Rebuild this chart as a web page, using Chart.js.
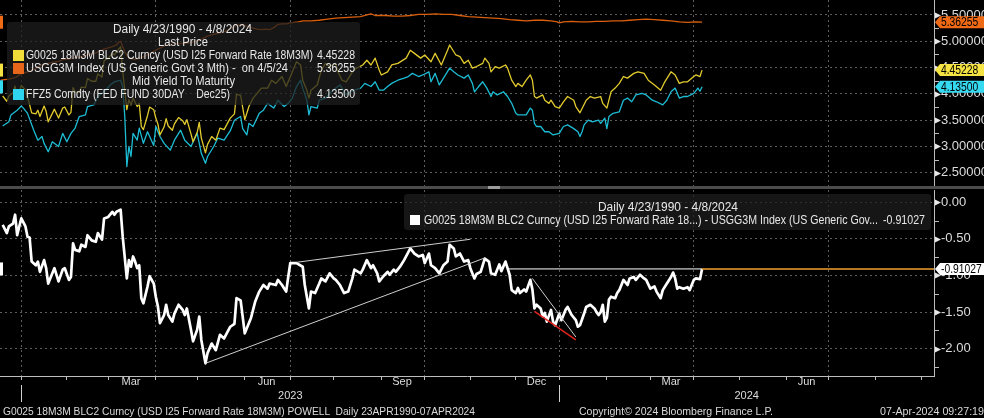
<!DOCTYPE html>
<html>
<head>
<meta charset="utf-8">
<script src="https://cdn.jsdelivr.net/npm/chart.js@4.4.1/dist/chart.umd.min.js"></script>
<style>
  html, body { margin: 0; padding: 0; background: #000; }
  #wrap { position: relative; width: 984px; height: 418px; overflow: hidden; background: #000; color: #e8e8e8;
          font-family: "Liberation Sans", Arial, sans-serif; }
  canvas { position: absolute; left: 0; }
  #topChart { top: 0; }
  #botChart { top: 189px; }
  .sep { position: absolute; left: 0; top: 186px; width: 984px; height: 3px; background: #4b4b4b; }
  .grip { position: absolute; left: 488px; top: 186px; width: 12px; height: 3px; background: #9c9c9c; }
  .box { position: absolute; background: rgba(30, 30, 30, 0.74); border-radius: 3px; }
  .sq { position: absolute; }
  .tx { position: absolute; font-size: 12.5px; line-height: 13px; height: 13px; white-space: pre; transform-origin: 0 50%; }
  .ft { font-size: 11.5px; color: #dadada; }
</style>
</head>
<body>
<div id="wrap">
  <canvas id="topChart" width="984" height="186"></canvas>
  <div class="sep"></div><div class="grip"></div>
  <canvas id="botChart" width="984" height="229"></canvas>

  <div class="box" style="left:7px; top:22px; width:353px; height:83px;"></div>
  <div class="sq" style="left:13px; top:50px; width:11px; height:11px; background:#f2dc3a;"></div>
  <div class="sq" style="left:13px; top:63px; width:11px; height:11px; background:#e8661a;"></div>
  <div class="sq" style="left:13px; top:89px; width:11px; height:11px; background:#2fd5ee;"></div>
  <span class="tx" data-w="139" style="left:113px; top:23px;">Daily 4/23/1990 - 4/8/2024</span>
  <span class="tx" data-w="50" style="left:158px; top:36px;">Last Price</span>
  <span class="tx" data-w="287" style="left:25.5px; top:49px;">G0025 18M3M BLC2 Curncy (USD I25 Forward Rate 18M3M)</span>
  <span class="tx" data-w="38" style="left:317px; top:49px;">4.45228</span>
  <span class="tx" data-w="262" style="left:25.5px; top:62px;">USGG3M Index (US Generic Govt 3 Mth) -  on 4/5/24</span>
  <span class="tx" data-w="38" style="left:317px; top:62px;">5.36255</span>
  <span class="tx" data-w="103" style="left:132px; top:75px;">Mid Yield To Maturity</span>
  <span class="tx" data-w="204" style="left:25.5px; top:88px;">FFZ5 Comdty (FED FUND 30DAY    Dec25)</span>
  <span class="tx" data-w="38" style="left:317px; top:88px;">4.13500</span>

  <div class="box" style="left:404px; top:194px; width:527px; height:36px;"></div>
  <div class="sq" style="left:410px; top:215px; width:10px; height:10px; background:#fff;"></div>
  <span class="tx" data-w="140" style="left:597.5px; top:200.5px;">Daily 4/23/1990 - 4/8/2024</span>
  <span class="tx" data-w="454" style="left:423.5px; top:213.5px;">G0025 18M3M BLC2 Curncy (USD I25 Forward Rate 18...) - USGG3M Index (US Generic Gov...</span>
  <span class="tx" data-w="42" style="left:883px; top:213.5px;">-0.91027</span>

  <span class="tx ft" data-w="472" style="left:3px; top:404.5px;">G0025 18M3M BLC2 Curncy (USD I25 Forward Rate 18M3M) POWELL  Daily 23APR1990-07APR2024</span>
  <span class="tx ft" data-w="194" style="left:579px; top:404.5px;">Copyright© 2024 Bloomberg Finance L.P.</span>
  <span class="tx ft" data-w="104" style="left:880px; top:404.5px;">07-Apr-2024 09:27:19</span>
</div>

<script>
// x values are business days counted from Mon 2 Jan 2023 (Bloomberg drops weekends)

// G0025 18M3M forward rate
const g0025Days = [
  -9,-7,-6,-4,-3,-2,-1,0,2,3,
  5,7,8,9,11,12,13,15,16,18,
  20,21,23,24,25,26,28,29,31,32,
  34,36,37,39,40,42,44,45,46,48,
  49,51,52,53,54,55,56,57,58,59,
  61,62,64,65,66,67,69,70,71,73,
  74,76,78,79,80,82,83,85,86,87,
  89,90,92,94,96,98,101,103,104,106,
  108,110,112,114,116,119,121,123,126,128,
  131,133,135,136,138,139,140,143,145,147,
  149,152,153,155,157,160,162,165,167,169,
  171,173,174,177,179,182,186,188,190,193,
  195,198,200,203,206,207,210,212,214,216,
  218,220,223,224,226,227,229,231,234,235,
  237,239,240,242,244,246,247,248,249,252,
  253,255,256,258,260,262,264,267,268,270,
  273,275,277,280,281,283,285,287,289,291,
  293,296,298,301,303,306,309,311,314,316,
  318,320,322,325,326,328,329
];
const g0025Vals = [
  3.96,3.86,3.96,4.02,4.15,3.89,4.03,4.16,4.08,3.95,
  3.64,3.62,3.69,3.57,3.77,3.67,3.47,3.63,3.71,3.54,
  3.73,3.75,3.60,3.65,4.12,4.04,4.03,4.13,4.12,4.29,
  4.24,4.24,4.38,4.32,4.63,4.68,4.77,4.74,4.80,4.90,
  4.43,3.70,3.89,3.79,3.92,3.84,3.76,3.82,3.38,3.32,
  3.59,3.75,3.70,3.54,3.43,3.22,3.37,3.53,3.39,3.31,
  3.43,3.55,3.49,3.42,3.51,3.24,3.09,3.27,3.46,3.16,
  2.88,3.04,3.19,3.12,3.35,3.32,3.54,3.62,3.99,3.97,
  3.51,3.76,3.92,4.01,4.11,4.11,4.26,4.20,4.33,4.14,
  4.42,4.61,4.55,4.26,4.07,3.92,4.07,4.17,4.45,4.58,
  4.52,4.58,4.42,4.26,4.23,4.42,4.49,4.55,4.64,4.55,
  4.68,4.45,4.36,4.42,4.55,4.58,4.68,4.83,4.77,4.68,
  4.74,4.61,4.77,4.55,4.83,4.93,4.74,4.71,4.58,4.64,
  4.49,4.52,4.58,4.68,4.58,4.42,4.52,4.49,4.55,4.49,
  4.26,4.14,4.20,4.14,4.26,4.36,4.26,3.95,3.92,3.98,
  3.88,3.82,3.88,3.76,3.73,3.85,3.95,3.88,3.76,3.64,
  3.88,3.95,3.92,3.95,3.82,3.73,4.04,4.11,4.20,4.33,
  4.30,4.39,4.42,4.39,4.26,4.17,4.07,4.23,4.42,4.36,
  4.20,4.23,4.23,4.33,4.36,4.33,4.45228
];

// USGG3M generic 3 month bill
const usgg3mDays = [
  -10,-6,-3,0,3,5,8,10,13,15,
  18,20,23,25,28,30,33,36,40,44,
  46,47,48,49,50,52,55,58,60,62,
  64,66,68,70,72,74,76,78,80,82,
  84,86,88,90,92,94,96,98,100,102,
  104,106,108,110,112,114,116,118,120,122,
  124,126,128,130,132,134,136,140,144,148,
  152,156,160,164,167,169,171,176,180,184,
  188,192,196,200,204,208,212,216,220,224,
  228,232,236,240,244,248,252,256,259,260,
  262,266,270,274,278,282,286,290,294,298,
  302,306,310,314,318,322,326,329
];
const usgg3mVals = [
  4.26,4.28,4.31,4.38,4.42,4.45,4.50,4.55,4.58,4.60,
  4.62,4.65,4.66,4.68,4.70,4.72,4.75,4.78,4.85,4.90,
  4.93,4.98,5.00,4.90,4.80,4.68,4.65,4.69,4.72,4.76,
  4.81,4.85,4.89,4.93,4.94,4.95,4.95,4.96,4.96,4.98,
  5.00,5.02,5.06,5.10,5.12,5.14,5.16,5.18,5.22,5.26,
  5.30,5.31,5.30,5.28,5.25,5.23,5.22,5.23,5.22,5.26,
  5.32,5.33,5.33,5.35,5.36,5.37,5.39,5.39,5.40,5.42,
  5.44,5.45,5.46,5.47,5.50,5.52,5.49,5.49,5.48,5.48,
  5.49,5.51,5.51,5.52,5.51,5.51,5.49,5.47,5.46,5.45,
  5.44,5.43,5.41,5.40,5.39,5.40,5.40,5.39,5.37,5.35,
  5.37,5.38,5.37,5.37,5.38,5.38,5.39,5.39,5.40,5.41,
  5.42,5.41,5.40,5.39,5.37,5.36,5.37,5.36255
];

// FFZ5 fed fund future Dec25
const ffz5Days = [
  -9,-6,-5,-2,0,1,3,6,8,10,
  11,13,15,18,20,22,24,26,28,31,
  32,35,37,40,43,45,48,49,50,51,
  52,53,54,56,57,59,61,64,65,67,
  69,72,74,77,79,82,85,87,89,90,
  93,95,98,101,103,106,107,109,110,112,
  115,117,119,122,124,127,129,131,133,135,
  136,138,139,140,143,144,147,149,152,154,
  157,159,161,164,166,169,171,173,175,177,
  179,182,185,187,189,192,194,197,198,200,
  202,205,207,209,211,214,216,218,219,221,
  223,225,227,228,230,233,235,237,239,240,
  242,244,246,247,248,249,251,253,255,257,
  260,262,264,267,269,270,271,272,274,276,
  279,280,282,283,284,286,289,291,293,295,
  297,300,302,305,307,310,312,314,316,318,
  320,322,325,327,328,329
];
const ffz5Vals = [
  3.39,3.47,3.60,3.69,3.77,3.73,3.63,3.31,3.12,3.19,
  3.06,2.90,3.09,3.00,3.25,3.09,3.25,3.35,3.57,3.60,
  3.76,3.79,3.95,4.04,4.17,4.23,4.26,4.14,3.57,2.62,
  3.00,2.81,3.25,3.12,3.35,3.06,3.28,3.02,3.38,3.19,
  3.06,2.93,3.12,3.31,3.12,3.00,3.25,2.87,2.68,2.81,
  3.00,3.16,3.12,3.30,3.50,3.57,3.34,3.22,3.44,3.38,
  3.63,3.69,3.82,3.73,3.88,3.76,3.82,3.92,4.14,4.26,
  4.11,3.88,3.60,3.76,3.73,3.88,3.92,4.01,4.11,4.17,
  3.98,4.04,4.07,4.11,4.20,4.14,4.23,4.07,4.07,4.14,
  4.20,4.26,4.30,4.33,4.39,4.33,4.36,4.42,4.23,4.39,
  4.17,4.36,4.49,4.42,4.36,4.30,4.36,4.20,4.04,4.14,
  4.23,4.11,3.95,4.04,3.98,4.04,3.95,3.82,3.63,3.60,
  3.60,3.60,3.73,3.69,3.44,3.38,3.38,3.28,3.28,3.22,
  3.25,3.38,3.41,3.34,3.28,3.19,3.28,3.41,3.50,3.47,
  3.50,3.44,3.54,3.34,3.57,3.63,3.66,3.88,3.92,3.85,
  3.98,4.01,3.98,3.88,3.85,3.79,3.88,4.04,4.11,3.92,
  3.95,3.95,4.01,4.11,4.05,4.135
];

// spread G0025 - USGG3M (lower panel)
const spreadDays = [
  -9,-7,-6,-4,-3,-2,-1,0,2,3,
  4,5,7,8,9,11,12,13,15,16,
  18,20,21,23,24,25,26,28,29,31,
  32,34,36,37,39,40,42,44,45,46,
  48,49,51,52,53,54,55,56,57,58,
  59,61,62,64,65,66,67,69,70,71,
  73,74,76,78,79,80,82,83,85,86,
  87,89,90,92,94,96,98,101,103,104,
  106,108,111,113,115,117,119,120,123,124,
  126,128,129,130,133,136,137,139,140,142,
  144,145,147,149,151,152,154,156,158,160,
  161,164,165,167,169,170,172,173,175,177,
  178,180,181,183,185,188,190,192,194,195,
  197,198,200,202,204,206,207,209,210,212,
  214,216,217,219,220,222,224,226,227,229,
  231,232,234,235,236,237,239,240,241,243,
  244,246,247,248,249,251,252,253,254,256,
  257,258,260,261,263,264,266,268,269,270,
  272,273,275,277,278,279,280,281,282,283,
  284,285,287,288,289,291,293,294,296,297,
  299,301,302,304,306,307,309,310,312,314,
  315,316,317,318,320,322,323,324,325,326,
  328,329
];
const spreadVals = [
  -0.31,-0.42,-0.33,-0.29,-0.17,-0.45,-0.33,-0.22,-0.33,-0.47,
  -0.48,-0.81,-0.86,-0.81,-0.95,-0.79,-0.90,-1.11,-0.97,-0.90,
  -1.08,-0.92,-0.90,-1.06,-1.02,-0.56,-0.65,-0.67,-0.58,-0.61,
  -0.45,-0.52,-0.54,-0.42,-0.51,-0.22,-0.20,-0.13,-0.17,-0.13,
  -0.10,-0.47,-1.04,-0.79,-0.88,-0.74,-0.81,-0.90,-0.86,-1.31,
  -1.38,-1.15,-1.01,-1.11,-1.29,-1.42,-1.65,-1.54,-1.40,-1.54,
  -1.63,-1.52,-1.40,-1.47,-1.54,-1.45,-1.74,-1.90,-1.74,-1.56,
  -1.88,-2.20,-2.06,-1.93,-2.02,-1.81,-1.86,-1.70,-1.66,-1.31,
  -1.34,-1.79,-1.58,-1.36,-1.22,-1.13,-1.18,-1.11,-1.13,-1.06,
  -1.13,-1.22,-1.02,-0.83,-0.83,-0.88,-1.13,-1.45,-1.22,-1.24,
  -1.11,-1.04,-1.08,-0.97,-1.04,-1.06,-1.13,-1.24,-1.22,-1.04,
  -0.92,-0.97,-0.92,-0.79,-0.90,-0.86,-0.97,-1.08,-1.01,-0.95,
  -0.99,-0.92,-0.95,-0.88,-0.79,-0.63,-0.70,-0.74,-0.72,-0.83,
  -0.70,-0.86,-0.90,-0.97,-0.86,-0.81,-0.58,-0.63,-0.74,-0.70,
  -0.81,-0.79,-0.90,-1.04,-0.98,-0.95,-0.77,-0.81,-0.97,-0.99,
  -0.85,-0.94,-0.81,-0.90,-0.99,-1.20,-1.24,-1.17,-1.24,-1.19,
  -1.22,-1.06,-1.19,-1.45,-1.40,-1.45,-1.56,-1.51,-1.63,-1.47,
  -1.63,-1.68,-1.52,-1.61,-1.47,-1.43,-1.54,-1.61,-1.70,-1.68,
  -1.52,-1.43,-1.40,-1.45,-1.50,-1.54,-1.50,-1.40,-1.63,-1.58,
  -1.33,-1.29,-1.31,-1.24,-1.20,-1.06,-1.13,-1.04,-1.02,-1.06,
  -0.99,-1.04,-1.06,-1.18,-1.15,-1.22,-1.31,-1.20,-1.11,-1.02,
  -0.96,-1.04,-1.18,-1.16,-1.18,-1.16,-1.20,-1.13,-1.06,-1.04,
  -1.05,-0.91
];

// hand drawn lines on the lower panel
const trendLowDays = [89, 224];   const trendLowVals = [-2.20, -0.76];
const trendHighDays = [133, 217]; const trendHighVals = [-0.82, -0.505];
const decLineDays = [247, 268];   const decLineVals = [-1.04, -1.84];
const redLineDays = [248, 268];   const redLineVals = [-1.49, -1.88];
const levelDays = [235, 329];

const lastG0025 = 4.45228, lastUsgg3m = 5.36255, lastFfz5 = 4.135, lastSpread = -0.91027;

const topTickVals = [2.5, 2.75, 3, 3.25, 3.5, 3.75, 4, 4.25, 4.5, 4.75, 5, 5.25, 5.5];
const botTickVals = [-2.25, -2, -1.75, -1.5, -1.25, -1, -0.75, -0.5, -0.25, 0];
const monthNames = ['Mar', 'Jun', 'Sep', 'Dec', 'Mar', 'Jun'];
const monthDates = [[2023, 3], [2023, 6], [2023, 9], [2023, 12], [2024, 3], [2024, 6]];
const yearNames = ['2023', '2024'];

const X_MIN = -10.3, X_MAX = 441.1;
const GRID = '#5e5e5e';
const AXIS = '#bdbdbd';
const FONT = '"Liberation Sans", Arial, sans-serif';

// squeeze the html labels to the width they have in the terminal font
document.querySelectorAll('[data-w]').forEach(el => {
  const w = el.getBoundingClientRect().width;
  if (w > 0) el.style.transform = 'scaleX(' + (+el.dataset.w / w) + ')';
});

// weekday index of a calendar date
function bday(y, m, d) {
  const days = Math.round((Date.UTC(y, m - 1, d) - Date.UTC(2023, 0, 2)) / 864e5);
  const w = Math.floor(days / 7);
  return w * 5 + Math.min(days - w * 7, 5);
}

const monthStarts = [];
const quarterStarts = new Set();
for (let y = 2022; y <= 2024; y++) {
  for (let m = 1; m <= 12; m++) {
    const v = bday(y, m, 1);
    if (v < X_MIN || v > X_MAX) continue;
    monthStarts.push(v);
    if ((m - 1) % 3 === 0) quarterStarts.add(v);
  }
}
const monthMid = monthDates.map(([y, m]) => (bday(y, m, 1) + bday(m === 12 ? y + 1 : y, m === 12 ? 1 : m + 1, 1) - 1) / 2);
const yearBreaks = [bday(2023, 1, 1), bday(2024, 1, 1)];
const yearMid = [(Math.max(X_MIN, yearBreaks[0]) + yearBreaks[1]) / 2, (yearBreaks[1] + X_MAX) / 2];

function pts(days, vals) { return days.map((d, i) => ({ x: d, y: vals[i] })); }
function isMajor(v) { return Math.abs(v * 2 - Math.round(v * 2)) < 1e-6; }
function noPad(s) { s.paddingTop = 0; s.paddingBottom = 0; s.paddingLeft = 0; s.paddingRight = 0; }

function drawTag(ctx, x, y, text, fill) {
  ctx.fillStyle = fill;
  ctx.beginPath();
  ctx.moveTo(x + 1, y);
  ctx.lineTo(x + 6, y - 6);
  ctx.lineTo(984, y - 6);
  ctx.lineTo(984, y + 6);
  ctx.lineTo(x + 6, y + 6);
  ctx.closePath();
  ctx.fill();
  ctx.save();
  ctx.translate(x + 7, y + 0.5);
  ctx.scale(0.86, 1);
  ctx.fillStyle = '#000';
  ctx.font = '12px ' + FONT;
  ctx.textAlign = 'left';
  ctx.textBaseline = 'middle';
  ctx.fillText(text, 0, 0);
  ctx.restore();
}

// tick arrows, minor ticks and last value tags on the right axis
const axisMarks = {
  id: 'axisMarks',
  afterDraw(chart, args, opts) {
    const { ctx, chartArea } = chart;
    const ys = chart.scales.y;
    const x0 = chartArea.right;
    ctx.save();
    ys.ticks.forEach(t => {
      const py = Math.round(ys.getPixelForValue(t.value)) + 0.5;
      if (isMajor(t.value)) {
        ctx.fillStyle = '#e6e6e6';
        ctx.beginPath();
        ctx.moveTo(x0 + 1, py - 3);
        ctx.lineTo(x0 + 7, py);
        ctx.lineTo(x0 + 1, py + 3);
        ctx.closePath();
        ctx.fill();
      } else {
        ctx.strokeStyle = AXIS;
        ctx.lineWidth = 1;
        ctx.beginPath();
        ctx.moveTo(x0, py);
        ctx.lineTo(x0 + 5, py);
        ctx.stroke();
      }
    });
    (opts.tags || []).forEach(tag => {
      const py = ys.getPixelForValue(tag.value);
      drawTag(ctx, x0, py, tag.text, tag.fill);
      ctx.fillStyle = tag.fill;
      ctx.fillRect(0, py - 6.5, 3, 13);
    });
    if (opts.years) {
      const xs = chart.scales.x;
      ctx.strokeStyle = '#cfcfcf';
      ctx.lineWidth = 1;
      yearBreaks.forEach(v => {
        const px = Math.round(xs.getPixelForValue(v)) + 0.5;
        ctx.beginPath();
        ctx.moveTo(px, chartArea.bottom + 9);
        ctx.lineTo(px, chartArea.bottom + 26);
        ctx.stroke();
      });
    }
    ctx.restore();
  }
};

const common = {
  responsive: false,
  animation: false,
  devicePixelRatio: 1,
  events: [],
  plugins: { legend: { display: false }, tooltip: { enabled: false } },
  elements: { point: { radius: 0 }, line: { tension: 0, borderJoinStyle: 'round' } }
};

function yAxis(min, max, tickVals, digits) {
  return {
    type: 'linear', position: 'right', min: min, max: max,
    afterBuildTicks: s => { s.ticks = tickVals.map(v => ({ value: v })); },
    afterFit: s => { s.width = 50; noPad(s); },
    ticks: {
      autoSkip: false, padding: 7, color: '#dcdcdc',
      font: { family: FONT, size: 13 },
      callback: v => isMajor(v) ? v.toFixed(digits) : ''
    },
    grid: { drawTicks: false, color: c => (c.tick && isMajor(c.tick.value)) ? GRID : 'rgba(0,0,0,0)' },
    border: { display: true, color: AXIS, width: 1, dash: [2, 3] }
  };
}

new Chart(document.getElementById('topChart'), {
  type: 'line',
  data: {
    datasets: [
      { data: pts(g0025Days, g0025Vals), borderColor: '#e2cb2e', borderWidth: 1.3 },
      { data: pts(usgg3mDays, usgg3mVals), borderColor: '#d95f0e', borderWidth: 1.3 },
      { data: pts(ffz5Days, ffz5Vals), borderColor: '#1dbdd5', borderWidth: 1.3 }
    ]
  },
  options: Object.assign({}, common, {
    layout: { padding: 0 },
    plugins: Object.assign({}, common.plugins, {
      axisMarks: { tags: [
        { value: lastUsgg3m, text: lastUsgg3m.toFixed(5), fill: '#f06a16' },
        { value: lastG0025, text: lastG0025.toFixed(5), fill: '#f5e243' },
        { value: lastFfz5, text: lastFfz5.toFixed(5), fill: '#35d9f0' }
      ] }
    }),
    scales: {
      x: {
        type: 'linear', min: X_MIN, max: X_MAX,
        afterBuildTicks: s => { s.ticks = [...quarterStarts].map(v => ({ value: v })); },
        afterFit: s => { s.height = 0; noPad(s); },
        ticks: { display: false },
        grid: { color: GRID, drawTicks: false },
        border: { display: false, dash: [2, 3] }
      },
      y: yAxis(2.249, 5.785, topTickVals, 5)
    }
  }),
  plugins: [axisMarks]
});

function seg(days, vals, color, width) {
  return { data: pts(days, vals), borderColor: color, borderWidth: width, borderJoinStyle: 'miter' };
}

function labelAxis(weight, values, names) {
  return {
    type: 'linear', position: 'bottom', weight: weight, min: X_MIN, max: X_MAX,
    afterBuildTicks: s => { s.ticks = values.map(v => ({ value: v })); },
    afterFit: s => { s.height = 14; noPad(s); },
    ticks: { autoSkip: false, maxRotation: 0, padding: 0, color: '#dcdcdc',
             font: { family: FONT, size: 11, lineHeight: 1.1 },
             callback: (v, i) => names[i] },
    grid: { display: false, drawTicks: false },
    border: { display: false }
  };
}

new Chart(document.getElementById('botChart'), {
  type: 'line',
  data: {
    datasets: [
      seg(levelDays, [lastSpread, lastSpread], '#ffffff', 1),
      seg([levelDays[1], X_MAX], [lastSpread, lastSpread], '#f0a030', 1.5),
      seg(trendLowDays, trendLowVals, '#cfcfcf', 1),
      seg(trendHighDays, trendHighVals, '#cfcfcf', 1),
      seg(decLineDays, decLineVals, '#cfcfcf', 1),
      seg(redLineDays, redLineVals, '#e3231d', 1.5),
      { data: pts(spreadDays, spreadVals), borderColor: '#ffffff', borderWidth: 2.7 }
    ]
  },
  options: Object.assign({}, common, {
    layout: { padding: { top: 1, bottom: 14, left: 0, right: 0 } },
    plugins: Object.assign({}, common.plugins, {
      axisMarks: { years: true, tags: [
        { value: lastSpread, text: lastSpread.toFixed(5), fill: '#ffffff' }
      ] }
    }),
    scales: {
      x: {
        type: 'linear', position: 'bottom', weight: 0, min: X_MIN, max: X_MAX,
        afterBuildTicks: s => { s.ticks = monthStarts.map(v => ({ value: v })); },
        afterFit: s => { s.height = 0; noPad(s); },
        ticks: { display: false },
        grid: {
          color: c => (c.tick && quarterStarts.has(c.tick.value)) ? GRID : 'rgba(0,0,0,0)',
          drawTicks: true, tickLength: 4, tickColor: AXIS
        },
        border: { display: true, color: AXIS, width: 1, dash: [2, 3] }
      },
      xm: labelAxis(1, monthMid, monthNames),
      xy: labelAxis(2, yearMid, yearNames),
      y: yAxis(-2.373, 0.168, botTickVals, 2)
    }
  }),
  plugins: [axisMarks]
});
</script>
</body>
</html>
